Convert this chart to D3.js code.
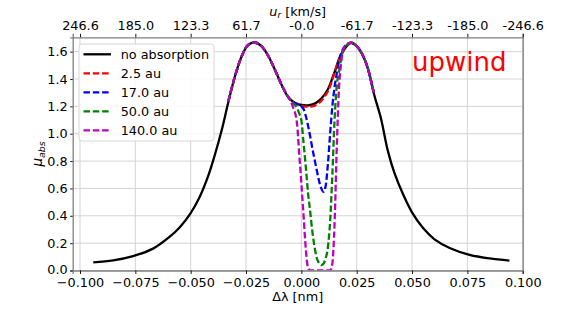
<!DOCTYPE html>
<html>
<head>
<meta charset="utf-8">
<script src="https://cdn.jsdelivr.net/npm/d3@7"></script>
<style>
  html, body { margin: 0; padding: 0; background: #fff; }
  svg { display: block; font-family: "DejaVu Sans", sans-serif; }
  .tick text { font-size: 12.8px; fill: #000; }
</style>
</head>
<body>
<svg id="chart" width="581" height="310"></svg>
<script>
// no-absorption profile
const DL_BASE = [-0.094, -0.085, -0.076, -0.067, -0.060, -0.055, -0.050, -0.046, -0.042, -0.039, -0.036, -0.033,
  -0.030, -0.027, -0.024, -0.0212, -0.018, -0.015, -0.012, -0.009, -0.006, -0.003, 0.000, 0.003, 0.006, 0.009,
  0.012, 0.015, 0.018, 0.0224, 0.025, 0.028, 0.030, 0.033, 0.036, 0.039, 0.042, 0.046, 0.050, 0.055, 0.060,
  0.067, 0.076, 0.085, 0.094];
const MU_BASE = [0.060, 0.074, 0.105, 0.160, 0.240, 0.315, 0.420, 0.535, 0.695, 0.850, 1.025, 1.230,
  1.420, 1.565, 1.650, 1.667, 1.640, 1.570, 1.470, 1.360, 1.270, 1.225, 1.210, 1.207, 1.220, 1.257,
  1.325, 1.450, 1.580, 1.665, 1.640, 1.565, 1.480, 1.280, 1.110, 0.880, 0.715, 0.555, 0.425, 0.310, 0.230,
  0.165, 0.115, 0.088, 0.072];

// absorbed profiles share this grid
const DL_DIP = [-0.033, -0.030, -0.027, -0.024, -0.0212, -0.018, -0.015, -0.012, -0.009, -0.006, -0.004, -0.002,
  -0.001, 0.000, 0.001, 0.002, 0.003, 0.004, 0.005, 0.006, 0.007, 0.008, 0.009, 0.010, 0.011, 0.012, 0.013,
  0.014, 0.015, 0.016, 0.017, 0.018, 0.019, 0.020, 0.0224, 0.025, 0.028, 0.030, 0.0327];
const MU_2_5 = [1.235, 1.420, 1.565, 1.650, 1.667, 1.640, 1.570, 1.470, 1.360, 1.270, 1.235, 1.218,
  1.212, 1.205, 1.200, 1.198, 1.197, 1.198, 1.200, 1.205, 1.213, 1.225, 1.240, 1.260, 1.284, 1.310, 1.348,
  1.395, 1.445, 1.495, 1.540, 1.580, 1.615, 1.640, 1.665, 1.640, 1.565, 1.480, 1.300];
const MU_17 = [1.235, 1.420, 1.565, 1.650, 1.667, 1.640, 1.570, 1.470, 1.360, 1.270, 1.235, 1.218,
  1.212, 1.200, 1.180, 1.130, 1.060, 0.980, 0.890, 0.810, 0.730, 0.655, 0.600, 0.575, 0.620, 0.780, 1.000,
  1.200, 1.340, 1.440, 1.530, 1.590, 1.625, 1.645, 1.665, 1.640, 1.565, 1.480, 1.300];
const MU_50 = [1.235, 1.420, 1.565, 1.650, 1.667, 1.640, 1.570, 1.470, 1.360, 1.270, 1.230, 1.190,
  1.150, 1.100, 0.930, 0.760, 0.570, 0.430, 0.280, 0.170, 0.090, 0.055, 0.040, 0.050, 0.090, 0.170, 0.360,
  0.700, 1.100, 1.350, 1.450, 1.550, 1.615, 1.640, 1.665, 1.640, 1.565, 1.480, 1.300];
const MU_140 = [1.235, 1.420, 1.565, 1.650, 1.667, 1.640, 1.570, 1.470, 1.360, 1.270, 1.205, 1.080,
  0.860, 0.640, 0.400, 0.160, 0.020, 0.000, 0.000, 0.000, 0.000, 0.000, 0.000, 0.000, 0.000, 0.000, 0.000,
  0.050, 0.340, 0.900, 1.330, 1.520, 1.620, 1.645, 1.665, 1.640, 1.565, 1.480, 1.300];

const SERIES_NAMES = ["no absorption", "2.5 au", "17.0 au", "50.0 au", "140.0 au"];
const SERIES_COLORS = ["#000000", "#ff0000", "#0000ff", "#008000", "#bf00bf"];

const X_TICKS = [-0.100, -0.075, -0.050, -0.025, 0.000, 0.025, 0.050, 0.075, 0.100];
const TOP_TICK_LABELS = ["246.6", "185.0", "123.3", "61.7", "-0.0", "-61.7", "-123.3", "-185.0", "-246.6"];
const Y_TICKS = [0.0, 0.2, 0.4, 0.6, 0.8, 1.0, 1.2, 1.4, 1.6];

const plot = { left: 72.7, right: 522.7, top: 37.3, bottom: 270.5 };

const svg = d3.select("#chart");
const x = d3.scaleLinear().domain([-0.1033, 0.1]).range([plot.left, plot.right]);
const y = d3.scaleLinear().domain([0, 1.705]).range([plot.bottom, plot.top]);

svg.append("defs").append("clipPath").attr("id", "clip")
  .append("rect")
  .attr("x", plot.left).attr("y", plot.top)
  .attr("width", plot.right - plot.left).attr("height", plot.bottom - plot.top);

// grid
const grid = svg.append("g");
grid.selectAll("line.vx").data(X_TICKS).join("line")
  .attr("x1", d => x(d)).attr("x2", d => x(d))
  .attr("y1", plot.top).attr("y2", plot.bottom)
  .attr("stroke", "#d3d3d3").attr("stroke-width", 1);
grid.selectAll("line.hy").data(Y_TICKS).join("line")
  .attr("x1", plot.left).attr("x2", plot.right)
  .attr("y1", d => y(d)).attr("y2", d => y(d))
  .attr("stroke", "#d3d3d3").attr("stroke-width", 1);

// curves
const smoothLine = d3.line().x(d => x(d[0])).y(d => y(d[1])).curve(d3.curveCatmullRom.alpha(0.5));
const dipLine = d3.line().x(d => x(d[0])).y(d => y(d[1])).curve(d3.curveMonotoneX);
const curves = svg.append("g").attr("clip-path", "url(#clip)");

curves.append("path")
  .attr("d", smoothLine(d3.zip(DL_BASE, MU_BASE)))
  .attr("fill", "none").attr("stroke", SERIES_COLORS[0]).attr("stroke-width", 2.3);

[MU_2_5, MU_17, MU_50, MU_140].forEach((mu, i) => {
  curves.append("path")
    .attr("d", dipLine(d3.zip(DL_DIP, mu)))
    .attr("fill", "none")
    .attr("stroke", SERIES_COLORS[i + 1])
    .attr("stroke-width", 2.3)
    .attr("stroke-dasharray", "6.5,2.8");
});

// axes
const bottomAxis = svg.append("g")
  .attr("transform", `translate(0,${plot.bottom})`)
  .call(d3.axisBottom(x).tickValues(X_TICKS).tickSize(3.5).tickPadding(3.5)
    .tickFormat(d => d3.format(".3f")(d).replace("-", "\u2212")));
const topAxis = svg.append("g")
  .attr("transform", `translate(0,${plot.top})`)
  .call(d3.axisTop(x).tickValues(X_TICKS).tickSize(3.5).tickPadding(3.5)
    .tickFormat((d, i) => TOP_TICK_LABELS[i]));
const leftAxis = svg.append("g")
  .attr("transform", `translate(${plot.left},0)`)
  .call(d3.axisLeft(y).tickValues(Y_TICKS).tickSize(2.5).tickPadding(2.5).tickFormat(d3.format(".1f")));
const rightAxis = svg.append("g")
  .attr("transform", `translate(${plot.right},0)`)
  .call(d3.axisRight(y).tickValues([]).tickSize(0));

[bottomAxis, topAxis, leftAxis, rightAxis].forEach(a => {
  a.select(".domain").attr("stroke", "#808080").attr("stroke-width", 1.3);
  a.selectAll(".tick line").attr("stroke", "#000").attr("stroke-width", 0.9);
  a.selectAll(".tick text").attr("font-family", "DejaVu Sans").attr("font-size", 12.8);
});
// the 0.0 label sits just above the first bottom tick label
leftAxis.selectAll(".tick text").filter(d => d === 0).attr("dy", "0.2em");

// axis labels
svg.append("text")
  .attr("x", (plot.left + plot.right) / 2).attr("y", 300.5)
  .attr("text-anchor", "middle").attr("font-size", 12.8)
  .text("\u0394\u03bb [nm]");

const topLabel = svg.append("text")
  .attr("x", (plot.left + plot.right) / 2).attr("y", 16)
  .attr("text-anchor", "middle").attr("font-size", 12.8);
topLabel.append("tspan").attr("font-style", "italic").text("u");
topLabel.append("tspan").attr("font-style", "italic").attr("font-size", 9).attr("dy", 2).text("r");
topLabel.append("tspan").attr("dy", -2).text(" [km/s]");

const yLabel = svg.append("text")
  .attr("transform", `translate(42,${(plot.top + plot.bottom) / 2}) rotate(-90)`)
  .attr("text-anchor", "middle").attr("font-size", 13.5);
yLabel.append("tspan").attr("font-style", "italic").text("\u03bc");
yLabel.append("tspan").attr("font-style", "italic").attr("font-size", 9.5).attr("dy", 3).text("abs");

// legend
const legend = svg.append("g");
legend.append("rect")
  .attr("x", 79).attr("y", 44).attr("width", 135).attr("height", 97)
  .attr("rx", 3).attr("fill", "#fff").attr("fill-opacity", 0.85)
  .attr("stroke", "#d6d6d6").attr("stroke-width", 1);
SERIES_NAMES.forEach((name, i) => {
  const ly = 54.3 + i * 19;
  legend.append("line")
    .attr("x1", 83.5).attr("x2", 111).attr("y1", ly).attr("y2", ly)
    .attr("stroke", SERIES_COLORS[i]).attr("stroke-width", 2.3)
    .attr("stroke-dasharray", i === 0 ? null : "6.5,2.8");
  legend.append("text")
    .attr("x", 120.7).attr("y", ly + 4.6)
    .attr("font-size", 12.8).text(name);
});

// annotation
svg.append("text")
  .attr("x", 412).attr("y", 70.7)
  .attr("font-size", 26).attr("fill", "#ff0000")
  .text("upwind");
</script>
</body>
</html>
